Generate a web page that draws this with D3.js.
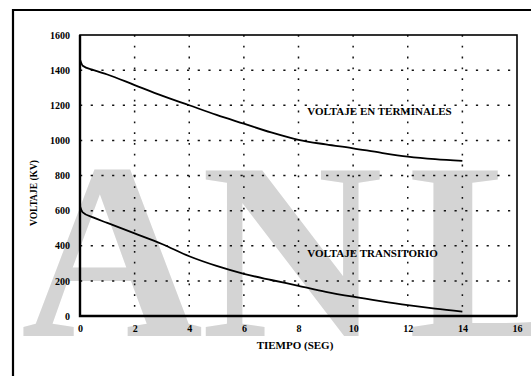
<!DOCTYPE html>
<html><head><meta charset="utf-8">
<script src="https://cdn.jsdelivr.net/npm/d3@7"></script>
<style>html,body{margin:0;padding:0;background:#fff;}svg{display:block;}</style>
</head><body>
<svg id="c" width="531" height="376"></svg>
<script>
// Data
const timeTerm = [0, 0.1, 0.5, 1, 2, 3, 4, 5, 6, 7, 8, 9, 10, 11, 12, 13, 14];
const voltTerm = [1460, 1425, 1400, 1375, 1315, 1255, 1200, 1145, 1095, 1045, 1003, 977, 955, 930, 908, 893, 883];
const timeTrans = [0, 0.1, 0.5, 1, 2, 3, 4, 5, 6, 7, 8, 9, 10, 11, 12, 13, 14];
const voltTrans = [625, 590, 560, 530, 470, 410, 340, 285, 240, 205, 172, 138, 110, 85, 62, 42, 25];
const xTicks = [0, 2, 4, 6, 8, 10, 12, 14, 16];
const yTicks = [0, 200, 400, 600, 800, 1000, 1200, 1400, 1600];
const labelTerm = "VOLTAJE EN TERMINALES";
const labelTrans = "VOLTAJE TRANSITORIO";
const xTitle = "TIEMPO (SEG)";
const yTitle = "VOLTAJE (KV)";
const watermark = ["A", "N", "L"];

const svg = d3.select("#c");
const font = "'Liberation Serif', serif";

// watermark
const wmX = [112, 292, 492];
svg.selectAll("text.wm").data(watermark).enter().append("text")
  .attr("class", "wm").attr("x", (d, i) => wmX[i]).attr("y", 336)
  .attr("text-anchor", "middle").attr("font-family", font).attr("font-weight", "bold")
  .attr("font-size", 252).attr("fill", "#d4d4d4").text(d => d);

// outer frame
svg.append("path").attr("d", "M13,376 L13,10 L531,10").attr("fill", "none")
  .attr("stroke", "#000").attr("stroke-width", 2.2);

const x = d3.scaleLinear().domain([0, 16]).range([80, 517]);
const y = d3.scaleLinear().domain([0, 1600]).range([316, 35]);

// grid
const g = svg.append("g");
g.selectAll("line.vg").data(xTicks.slice(1, -1)).enter().append("line")
  .attr("x1", d => x(d)).attr("x2", d => x(d)).attr("y1", y(1600)).attr("y2", y(0))
  .attr("stroke", "#111").attr("stroke-width", 1.5).attr("stroke-dasharray", "1.8,9");
g.selectAll("line.hg").data(yTicks.slice(1, -1)).enter().append("line")
  .attr("x1", x(0)).attr("x2", x(16)).attr("y1", d => y(d)).attr("y2", d => y(d))
  .attr("stroke", "#111").attr("stroke-width", 1.5).attr("stroke-dasharray", "2.2,8.5");

// plot border
svg.append("rect").attr("x", x(0)).attr("y", y(1600)).attr("width", x(16) - x(0)).attr("height", y(0) - y(1600))
  .attr("fill", "none").attr("stroke", "#000").attr("stroke-width", 1.6);
svg.append("path").attr("d", `M${x(0)},${y(1600)} L${x(0)},${y(0)} L${x(16)},${y(0)}`)
  .attr("fill", "none").attr("stroke", "#000").attr("stroke-width", 2.4);

// axes (labels only)
const xa = svg.append("g").attr("transform", `translate(0,${y(0)})`)
  .call(d3.axisBottom(x).tickValues(xTicks).tickSize(0).tickPadding(9).tickFormat(d3.format("d")));
xa.select(".domain").remove();
xa.selectAll("text").attr("font-family", font).attr("font-weight", "bold").attr("font-size", 10).attr("fill", "#000");
const ya = svg.append("g").attr("transform", `translate(${x(0)},0)`)
  .call(d3.axisLeft(y).tickValues(yTicks).tickSize(0).tickPadding(10).tickFormat(d3.format("d")));
ya.select(".domain").remove();
ya.selectAll("text").attr("font-family", font).attr("font-weight", "bold").attr("font-size", 10).attr("fill", "#000");

// curves
const line = d3.line().x(d => x(d[0])).y(d => y(d[1])).curve(d3.curveMonotoneX);
svg.append("path").datum(d3.zip(timeTerm, voltTerm)).attr("d", line)
  .attr("fill", "none").attr("stroke", "#000").attr("stroke-width", 1.8);
svg.append("path").datum(d3.zip(timeTrans, voltTrans)).attr("d", line)
  .attr("fill", "none").attr("stroke", "#000").attr("stroke-width", 1.8);

// annotations
svg.append("text").attr("x", x(8.32)).attr("y", y(1145)).attr("font-family", font).attr("font-weight", "bold")
  .attr("font-size", 11).text(labelTerm);
svg.append("text").attr("x", x(8.32)).attr("y", y(338)).attr("font-family", font).attr("font-weight", "bold")
  .attr("font-size", 11).text(labelTrans);

// titles
svg.append("text").attr("x", 295).attr("y", 349).attr("text-anchor", "middle").attr("font-family", font)
  .attr("font-weight", "bold").attr("font-size", 11).text(xTitle);
svg.append("text").attr("transform", "translate(37,193) rotate(-90)").attr("text-anchor", "middle")
  .attr("font-family", font).attr("font-weight", "bold").attr("font-size", 9.5).text(yTitle);
</script>
</body></html>
